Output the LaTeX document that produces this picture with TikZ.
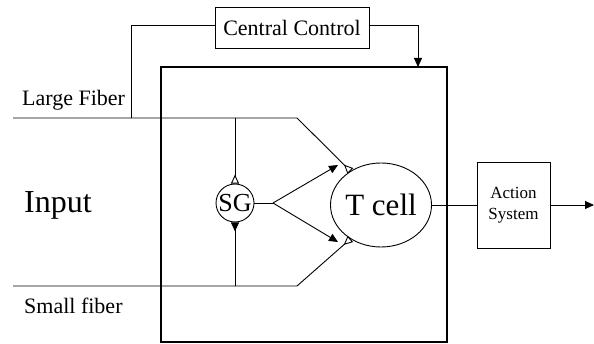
\documentclass[tikz,border=0pt]{standalone}
\usepackage{fontspec}
\setmainfont{Liberation Serif}
\usetikzlibrary{arrows.meta,shapes.geometric}

\tikzset{
  wire/.style={line width=0.9pt},
  openhead/.style={-{Triangle[open,reversed,length=9pt,width=8pt]}},
  fillhead/.style={-{Triangle[reversed,length=9pt,width=8pt]}},
  drivehead/.style={-{Triangle[length=9pt,width=8pt]}},
  labelbox/.style={draw, line width=0.9pt, inner sep=0pt, align=center},
  plain/.style={anchor=base west, inner sep=0pt}
}

\begin{document}
\begin{tikzpicture}[x=1pt,y=-1pt]

% Page
\useasboundingbox (0,0) rectangle (594,344);

% Gate box
\node[draw, line width=1.1pt, minimum width=286pt, minimum height=275pt] (gate) at (304,204.5) {};

% Central control
\node[labelbox, minimum width=154pt, minimum height=41pt, font=\fontsize{22}{26}\selectfont] (cc) at (292,27.5) {Central Control};

% Cells
\node[circle, draw, line width=0.9pt, minimum size=38pt, inner sep=0pt, font=\fontsize{26}{26}\selectfont] (sg) at (235,203) {SG};
\node[ellipse, draw, line width=0.9pt, minimum width=93pt, minimum height=84pt, inner sep=0pt, font=\fontsize{31}{31}\selectfont] (tcell) at (381,205) {T cell};
\node[labelbox, minimum width=73pt, minimum height=86pt, font=\fontsize{17}{21}\selectfont] (act) at (513.5,205) {Action\\System};

% Labels
\node[plain, font=\fontsize{22}{26}\selectfont] (lf-lbl) at (22,106) {Large Fiber};
\node[plain, font=\fontsize{32}{32}\selectfont] (in-lbl) at (24,213) {Input};
\node[plain, font=\fontsize{22}{26}\selectfont] (sf-lbl) at (24,314) {Small fiber};

% Points
\coordinate (lf-in) at (13,118);
\coordinate (lf-bend) at (297,118);
\coordinate (lf-tap) at (131,118);
\coordinate (sf-in) at (13,286);
\coordinate (sf-bend) at (297,286);
\coordinate (sg-fork) at (273,203);
\coordinate (t-up) at (338,165);
\coordinate (t-dn) at (338,242);
\coordinate (cc-drop) at (418,67);
\coordinate (out) at (594,205);

% Fibers
\draw[wire, openhead] (lf-in) -- (lf-bend) -- (tcell.132);
\draw[wire, openhead] (sf-in) -- (sf-bend) -- (tcell.228);
\draw[wire, openhead] (sg |- lf-in) -- (sg.north);
\draw[wire, fillhead] (sg |- sf-in) -- (sg.south);

% SG to T cell
\draw[wire] (sg.east) -- (sg-fork);
\draw[wire, drivehead] (sg-fork) -- (t-up);
\draw[wire, drivehead] (sg-fork) -- (t-dn);

% Central control loop
\draw[wire] ([yshift=2pt]cc.west) -| (lf-tap);
\draw[wire, drivehead] ([yshift=2pt]cc.east) -| (cc-drop);

% Output
\draw[wire] (tcell.east) -- (act.west);
\draw[wire, drivehead] (act.east) -- (out);

\end{tikzpicture}
\end{document}
